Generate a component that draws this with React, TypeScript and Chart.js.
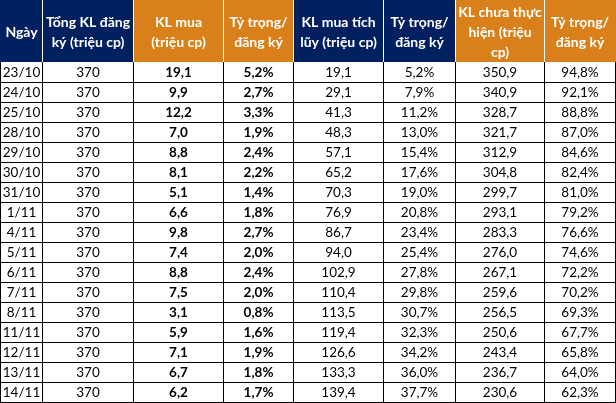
import React, { useEffect, useRef } from "react";
import { Chart, registerables } from "chart.js";

Chart.register(...registerables);

// ---- data ----
const HEADERS: string[][] = [
  ["Ngày"],
  ["Tổng KL đăng", "ký (triệu cp)"],
  ["KL mua", "(triệu cp)"],
  ["Tỷ trọng/", "đăng ký"],
  ["KL mua tích", "lũy (triệu cp)"],
  ["Tỷ trọng/", "đăng ký"],
  ["KL chưa thực", "hiện (triệu", "cp)"],
  ["Tỷ trọng/", "đăng ký"],
];

const dates = ["23/10", "24/10", "25/10", "28/10", "29/10", "30/10", "31/10", "1/11", "4/11", "5/11", "6/11", "7/11", "8/11", "11/11", "12/11", "13/11", "14/11"];
const totalRegistered = [370, 370, 370, 370, 370, 370, 370, 370, 370, 370, 370, 370, 370, 370, 370, 370, 370];
const buyVolume = [19.1, 9.9, 12.2, 7.0, 8.8, 8.1, 5.1, 6.6, 9.8, 7.4, 8.8, 7.5, 3.1, 5.9, 7.1, 6.7, 6.2];
const buyShare = [5.2, 2.7, 3.3, 1.9, 2.4, 2.2, 1.4, 1.8, 2.7, 2.0, 2.4, 2.0, 0.8, 1.6, 1.9, 1.8, 1.7];
const cumVolume = [19.1, 29.1, 41.3, 48.3, 57.1, 65.2, 70.3, 76.9, 86.7, 94.0, 102.9, 110.4, 113.5, 119.4, 126.6, 133.3, 139.4];
const cumShare = [5.2, 7.9, 11.2, 13.0, 15.4, 17.6, 19.0, 20.8, 23.4, 25.4, 27.8, 29.8, 30.7, 32.3, 34.2, 36.0, 37.7];
const remainVolume = [350.9, 340.9, 328.7, 321.7, 312.9, 304.8, 299.7, 293.1, 283.3, 276.0, 267.1, 259.6, 256.5, 250.6, 243.4, 236.7, 230.6];
const remainShare = [94.8, 92.1, 88.8, 87.0, 84.6, 82.4, 81.0, 79.2, 76.6, 74.6, 72.2, 70.2, 69.3, 67.7, 65.8, 64.0, 62.3];

// ---- layout / style ----
const COL_EDGES = [0, 42, 133, 223, 293, 383, 455, 544, 615];
const NAVY = "#002060";
const ORANGE = "#D9801A";
const HEADER_COLORS = [NAVY, NAVY, ORANGE, ORANGE, NAVY, NAVY, ORANGE, ORANGE];
const BOLD_COLS = [false, false, true, true, false, false, false, false];
const HEADER_ROWS = 3.1;
const FONT = "Lato, 'Open Sans', sans-serif";

const fmt1 = (v: number) => v.toFixed(1).replace(".", ",");
const fmtPct = (v: number) => fmt1(v) + "%";

function rowCells(i: number): string[] {
  return [
    dates[i],
    String(totalRegistered[i]),
    fmt1(buyVolume[i]),
    fmtPct(buyShare[i]),
    fmt1(cumVolume[i]),
    fmtPct(cumShare[i]),
    fmt1(remainVolume[i]),
    fmtPct(remainShare[i]),
  ];
}

const tablePlugin = {
  id: "tablePlugin",
  afterDraw(chart: any) {
    const ctx: CanvasRenderingContext2D = chart.ctx;
    const xs = chart.scales.x;
    const ys = chart.scales.y;
    const X = (v: number) => Math.round(xs.getPixelForValue(v));
    const Y = (v: number) => Math.round(ys.getPixelForValue(v));
    const nCols = COL_EDGES.length - 1;
    const nRows = dates.length;
    ctx.save();
    ctx.fillStyle = "#ffffff";
    ctx.fillRect(0, 0, chart.width, chart.height);

    // header cells
    const hTop = Y(-HEADER_ROWS);
    const hBot = Y(0);
    for (let c = 0; c < nCols; c++) {
      const x0 = X(COL_EDGES[c]);
      const x1 = X(COL_EDGES[c + 1]);
      ctx.fillStyle = HEADER_COLORS[c];
      ctx.fillRect(x0, hTop, x1 - x0 + 1, hBot - hTop);
    }
    ctx.strokeStyle = "#ffffff";
    ctx.lineWidth = 1;
    for (let c = 1; c < nCols; c++) {
      const x = X(COL_EDGES[c]) + 0.5;
      ctx.beginPath();
      ctx.moveTo(x, hTop);
      ctx.lineTo(x, hBot);
      ctx.stroke();
    }
    ctx.fillStyle = "#ffffff";
    ctx.font = `bold 14px ${FONT}`;
    ctx.textAlign = "center";
    ctx.textBaseline = "middle";
    const lh = 20;
    for (let c = 0; c < nCols; c++) {
      const cx = (X(COL_EDGES[c]) + X(COL_EDGES[c + 1])) / 2 + 0.5;
      const lines = HEADERS[c];
      const cy = (hTop + hBot) / 2;
      lines.forEach((ln, k) => {
        const y = cy + (k - (lines.length - 1) / 2) * lh + 1;
        ctx.fillText(ln, cx, y);
      });
    }

    // body text
    for (let r = 0; r < nRows; r++) {
      const y0 = Y(r);
      const y1 = Y(r + 1);
      const cells = rowCells(r);
      for (let c = 0; c < nCols; c++) {
        const cx = (X(COL_EDGES[c]) + X(COL_EDGES[c + 1])) / 2 + 0.5;
        ctx.fillStyle = "#000000";
        ctx.font = `${BOLD_COLS[c] ? "bold " : ""}13.5px ${FONT}`;
        ctx.fillText(cells[c], cx, (y0 + y1) / 2 + 1);
      }
    }

    // grid lines
    ctx.strokeStyle = "#000000";
    ctx.lineWidth = 1;
    const bTop = Y(0);
    const bBot = Y(nRows);
    for (let c = 0; c <= nCols; c++) {
      const x = X(COL_EDGES[c]) + 0.5;
      ctx.beginPath();
      ctx.moveTo(x, bTop);
      ctx.lineTo(x, bBot + 1);
      ctx.stroke();
    }
    for (let r = 1; r <= nRows; r++) {
      const y = Y(r) + 0.5;
      ctx.beginPath();
      ctx.moveTo(X(COL_EDGES[0]), y);
      ctx.lineTo(X(COL_EDGES[nCols]) + 1, y);
      ctx.stroke();
    }
    ctx.restore();
  },
};

export default function App() {
  const ref = useRef<HTMLCanvasElement | null>(null);
  useEffect(() => {
    if (!ref.current) return;
    const chart = new Chart(ref.current, {
      type: "scatter",
      data: { datasets: [{ data: [], pointRadius: 0 }] },
      options: {
        animation: false,
        responsive: true,
        maintainAspectRatio: false,
        layout: { padding: 0 },
        plugins: { legend: { display: false }, tooltip: { enabled: false } },
        scales: {
          x: { type: "linear", display: false, min: 0, max: 616 },
          y: { type: "linear", display: false, reverse: true, min: -HEADER_ROWS, max: dates.length + 0.05 },
        },
      },
      plugins: [tablePlugin],
    });
    return () => chart.destroy();
  }, []);
  return (
    <div style={{ position: "absolute", left: 0, top: 0, width: 616, height: 403, background: "#fff" }}>
      <canvas ref={ref} />
    </div>
  );
}
